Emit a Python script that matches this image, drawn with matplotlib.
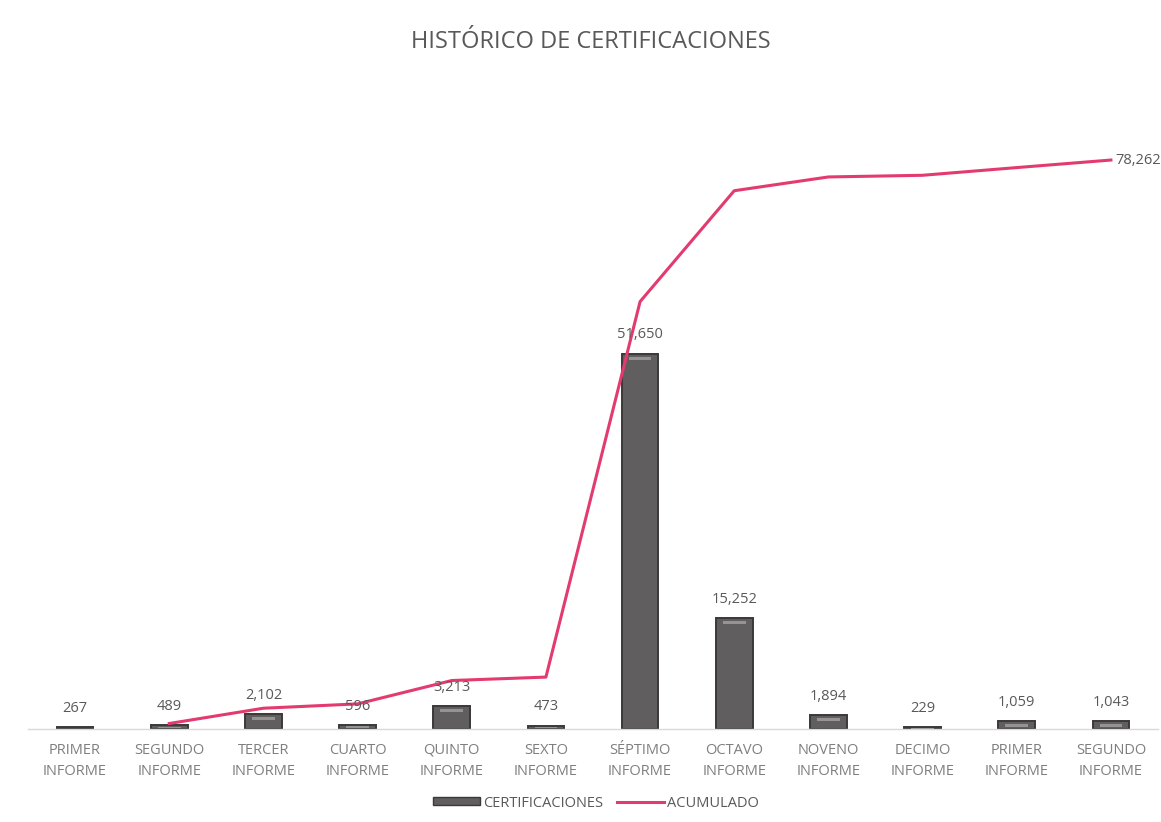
import matplotlib
matplotlib.use("Agg")
import matplotlib.pyplot as plt
from matplotlib.lines import Line2D
from matplotlib.patches import Patch

categories = ["PRIMER\nINFORME", "SEGUNDO\nINFORME", "TERCER\nINFORME", "CUARTO\nINFORME",
              "QUINTO\nINFORME", "SEXTO\nINFORME", "SÉPTIMO\nINFORME", "OCTAVO\nINFORME",
              "NOVENO\nINFORME", "DECIMO\nINFORME", "PRIMER\nINFORME", "SEGUNDO\nINFORME"]
certificaciones = [267, 489, 2102, 596, 3213, 473, 51650, 15252, 1894, 229, 1059, 1043]
# ACUMULADO line starts at the second category
acumulado_idx = [1, 2, 3, 4, 5, 6, 7, 8, 9, 10, 11]
acumulado = [756, 2858, 3454, 6667, 7140, 58790, 74042, 75936, 76165, 77224, 78262]

plt.rcParams['font.family'] = ['Open Sans', 'DejaVu Sans']

fig = plt.figure(figsize=(11.61, 8.22), dpi=100)
ax = fig.add_axes([28/1161, 93/822, (1158-28)/1161, 609/822])

px = 1000 / 7.27  # data units per pixel
x = list(range(len(categories)))
bar_color = '#605e5e'
ax.bar(x, certificaciones, width=0.39, color=bar_color, edgecolor='#3a3838', linewidth=1.4, zorder=2)
# lighter highlight stripe near the top of each bar (cylinder-like shading)
hl_height = [min(3 * px, v * 0.3) for v in certificaciones]
hl_bottom = [v - 6 * px if v > 8 * px else v * 0.3 for v in certificaciones]
ax.bar(x, hl_height, bottom=hl_bottom, width=0.24, color='#959393', linewidth=0, zorder=2.5)

for xi, v in zip(x, certificaciones):
    ax.annotate(f"{v:,}", (xi, v), xytext=(0, 8), textcoords='offset points',
                ha='center', va='bottom', fontsize=10.5, color='#595959', zorder=4)

line_color = '#e33a6f'
ax.plot(acumulado_idx, acumulado, color=line_color, linewidth=2.2, zorder=3)
ax.annotate(f"{acumulado[-1]:,}", (acumulado_idx[-1], acumulado[-1]), xytext=(3, 0),
            textcoords='offset points', ha='left', va='center', fontsize=10.5,
            color='#595959', annotation_clip=False, clip_on=False)

ax.set_xlim(-0.5, 11.5)
ax.set_ylim(0, 609 * px)
ax.set_xticks(x)
ax.set_xticklabels(categories, fontsize=10.5, color='#7f7f7f', linespacing=1.55)
ax.tick_params(axis='x', length=0, pad=10)
ax.set_yticks([])
for s in ['top', 'right', 'left']:
    ax.spines[s].set_visible(False)
ax.spines['bottom'].set_color('#d9d9d9')
ax.spines['bottom'].set_linewidth(1.0)

fig.text(591/1161, 1 - 42/822, "HISTÓRICO DE CERTIFICACIONES", ha='center', va='center',
         fontsize=17, color='#595959')

handles = [Patch(facecolor=bar_color, edgecolor='#3a3838'),
           Line2D([0], [0], color=line_color, linewidth=2.2)]
fig.legend(handles, ["CERTIFICACIONES", "ACUMULADO"], loc='center', bbox_to_anchor=(596/1161, 1 - 803/822),
           ncol=2, frameon=False, fontsize=10.5, labelcolor='#595959', handlelength=3.2,
           handleheight=0.5, handletextpad=0.2, columnspacing=1.0)

fig.savefig("out.png", dpi=100)
